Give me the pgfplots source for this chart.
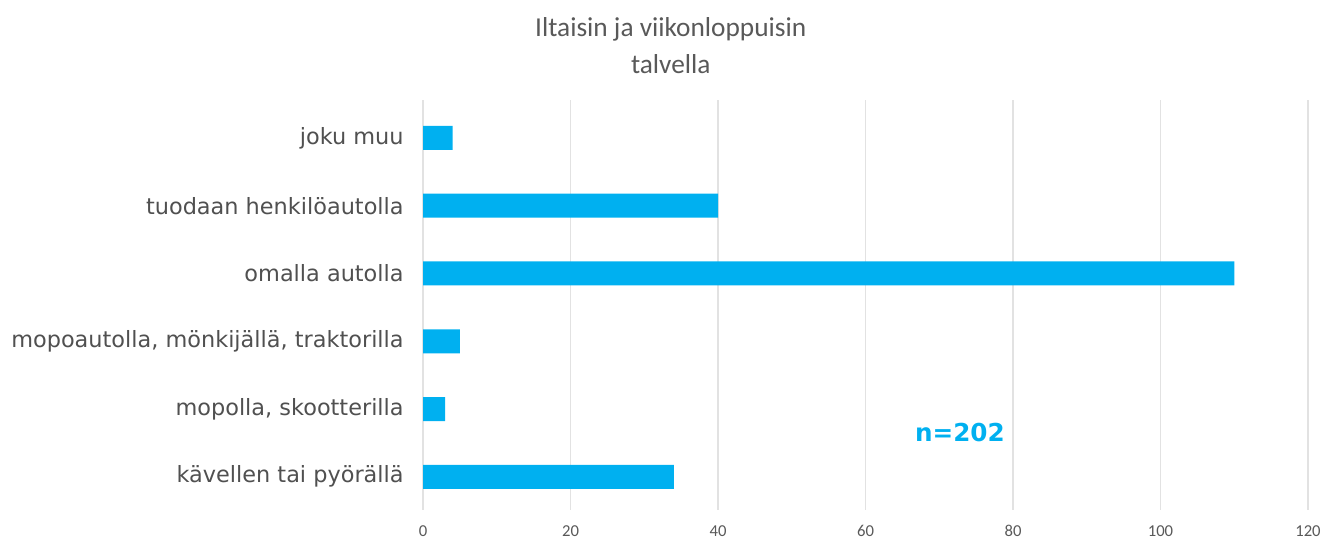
\documentclass[border=0pt]{standalone}
\usepackage{pgfplots}
\pgfplotsset{compat=1.18}
\usepackage{fontspec}
\setmainfont{DejaVu Sans}
\newfontfamily\calibri{Carlito}
\definecolor{barblue}{HTML}{00B0F0}
\definecolor{gridgray}{HTML}{E2E2E2}
\definecolor{ticktxt}{HTML}{595959}
\definecolor{cattxt}{HTML}{505050}
\begin{document}
\begin{tikzpicture}
\path[use as bounding box] (0,0) rectangle (992.25pt,406.5pt);
\begin{axis}[
  at={(317.25pt,24pt)}, anchor=south west,
  scale only axis,
  width=663.75pt, height=307.5pt,
  xbar, bar width=18pt,
  xmin=0, xmax=120,
  ymin=-0.49, ymax=5.56,
  xtick={0,20,...,120},
  ytick={0,1,2,3,4,5},
  yticklabels={k\"avellen tai py\"or\"all\"a, {mopolla, skootterilla}, {mopoautolla, m\"onkij\"all\"a, traktorilla}, omalla autolla, tuodaan henkil\"oautolla, joku muu},
  axis line style={draw=none},
  major tick length=0pt,
  xmajorgrids, grid style={gridgray, line width=0.8pt},
  /pgf/number format/assume math mode=true,
  xticklabel style={font=\calibri\fontsize{12.5}{14}\selectfont, text=ticktxt, yshift=-8pt},
  yticklabel style={font=\fontsize{16.8}{19}\selectfont, text=cattxt, xshift=-11pt},
  title={Iltaisin ja viikonloppuisin\\talvella},
  title style={font=\calibri\fontsize{20.5}{27.5}\selectfont, text=ticktxt, align=center, at={(rel axis cs:0.280,1.113)}, anchor=center},
  clip=false,
]
\addplot[fill=barblue, draw=none] coordinates {(34,0) (3,1) (5,2) (110,3) (40,4) (4,5)};
\node[font=\bfseries\fontsize{18.5}{20}\selectfont, text=barblue] at (axis cs:72.8,0.65) {n=202};
\end{axis}
\end{tikzpicture}
\end{document}
